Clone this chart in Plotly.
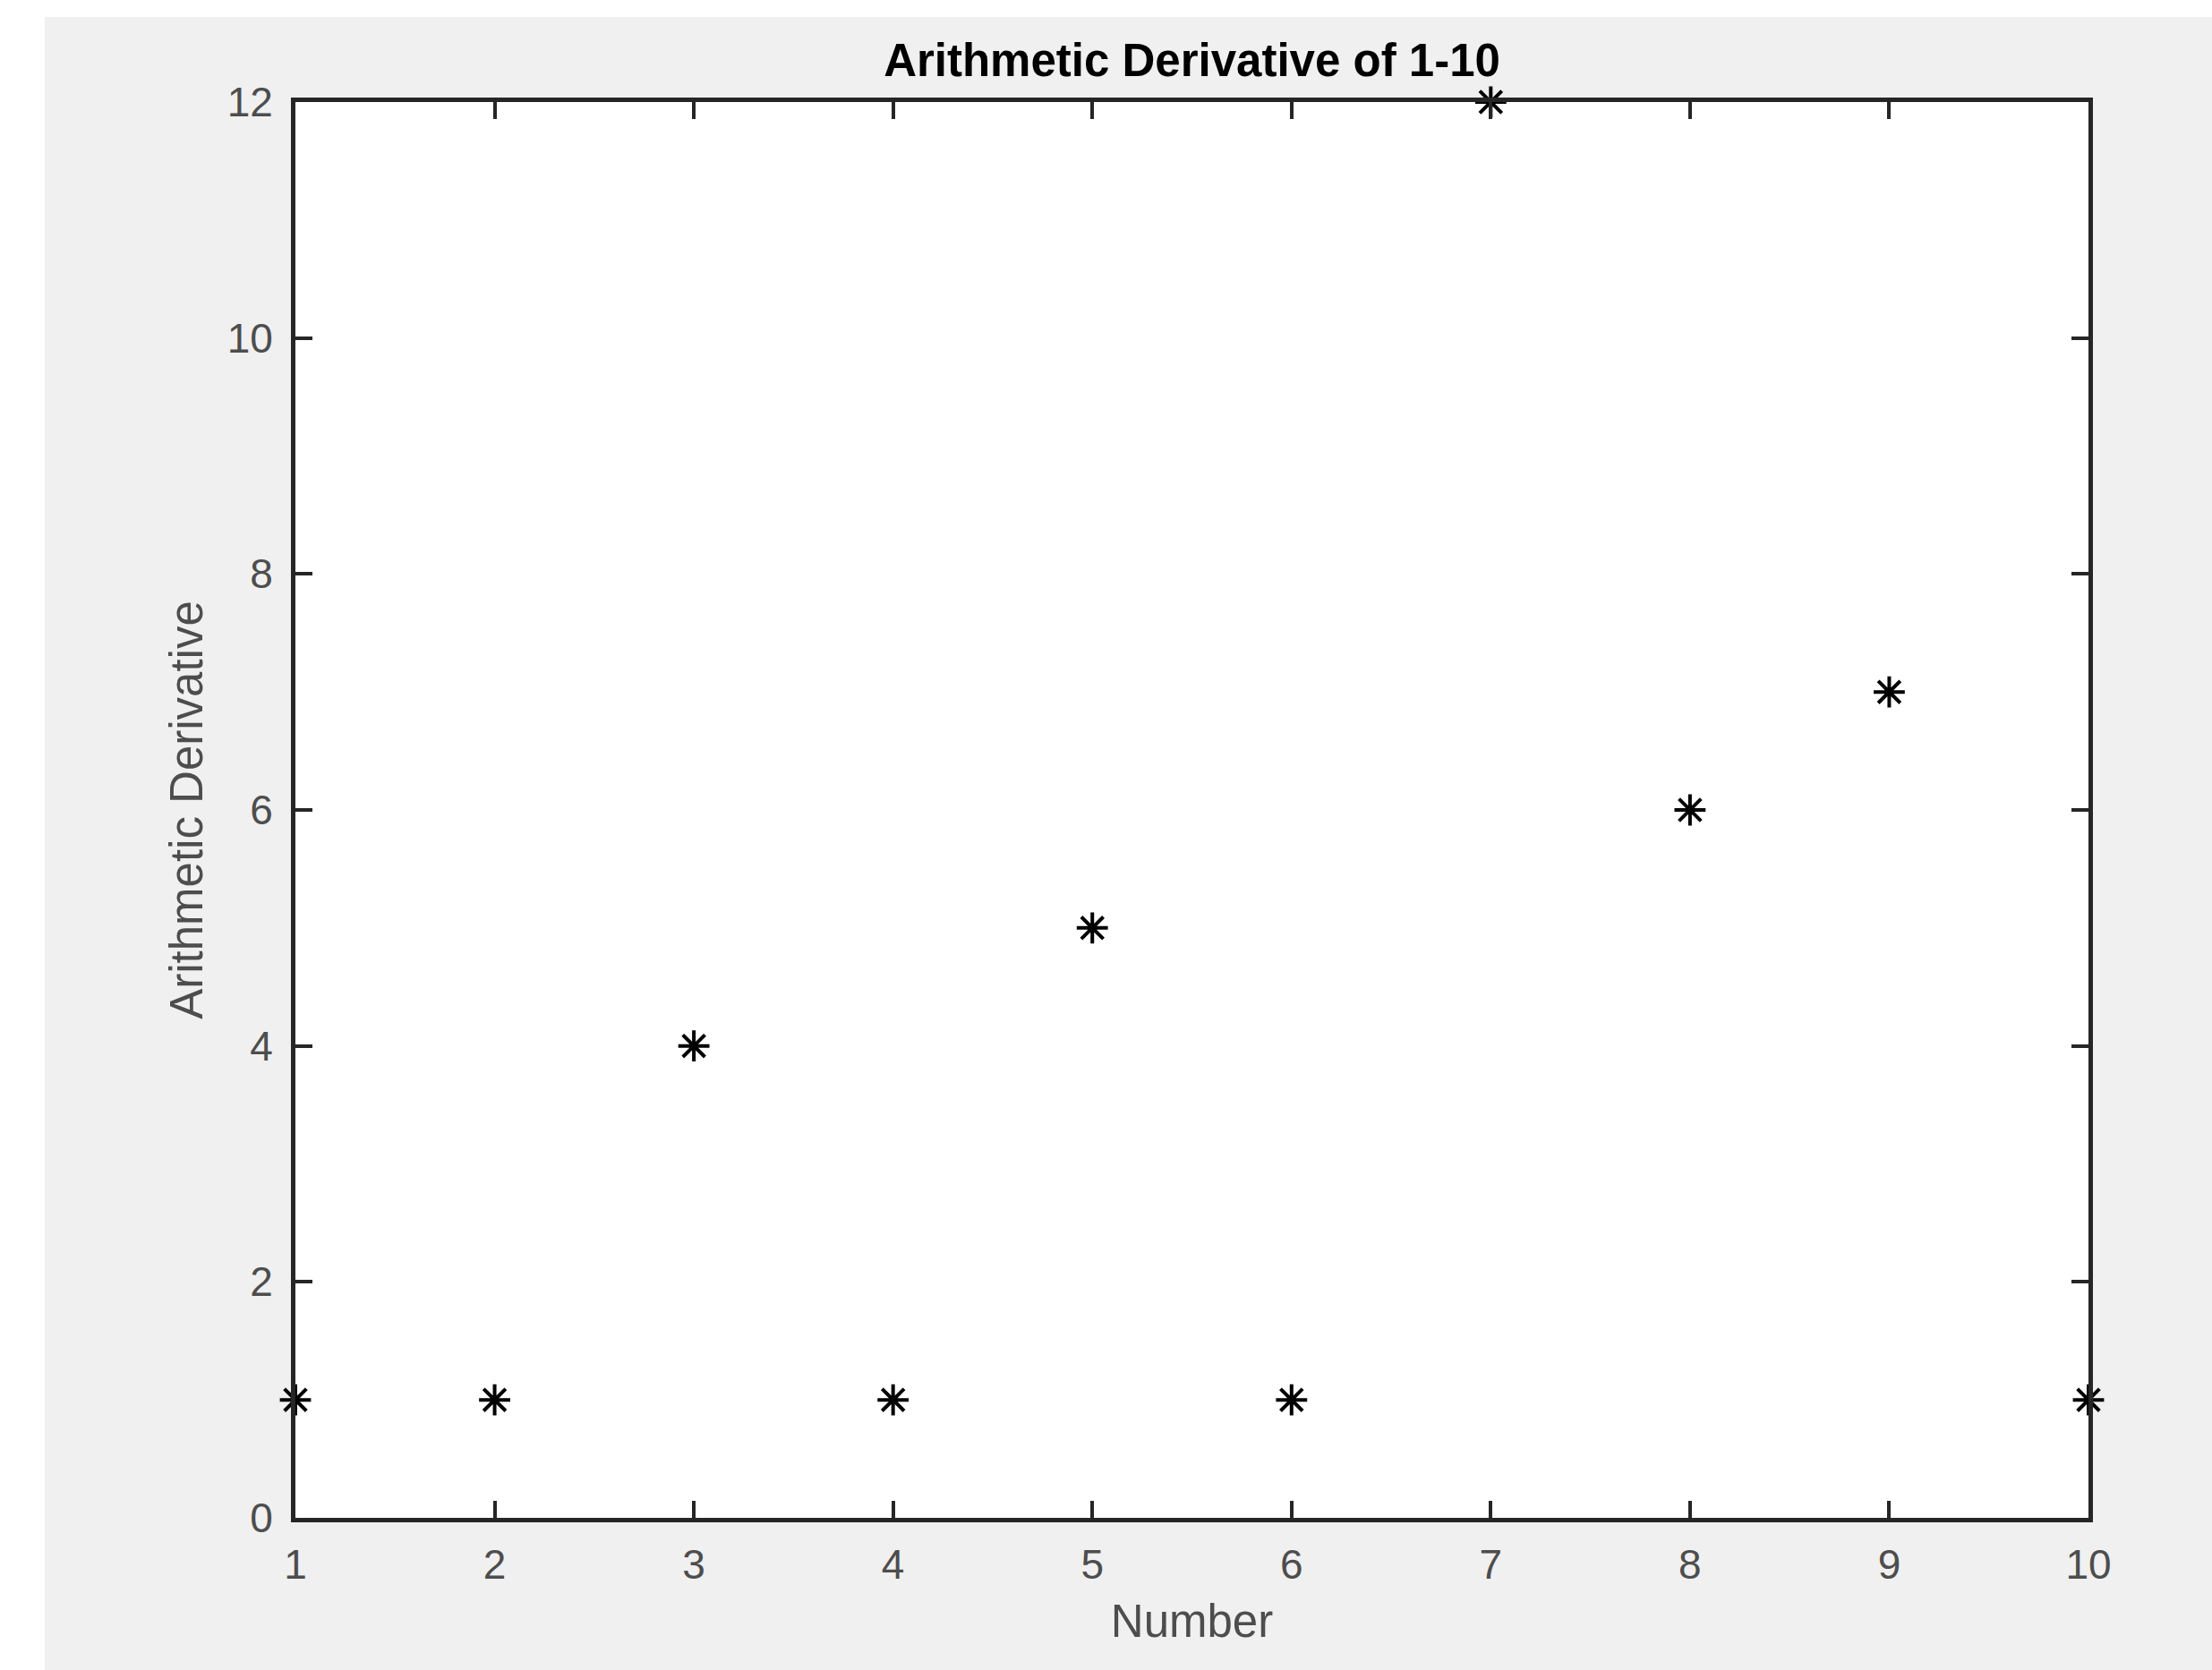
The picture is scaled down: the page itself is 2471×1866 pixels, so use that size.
import plotly.graph_objects as go

# Data
numbers = [1, 2, 3, 4, 5, 6, 7, 8, 9, 10]
derivative = [1, 1, 4, 1, 5, 1, 12, 6, 7, 1]
x_ticks = [1, 2, 3, 4, 5, 6, 7, 8, 9, 10]
y_ticks = [0, 2, 4, 6, 8, 10, 12]

W, H = 2471, 1866
L, R, T, B = 330, 2333, 114, 1696

AX = "#262626"
LBL = "#4d4d4d"
FONT = "Liberation Sans, Arial, Helvetica, sans-serif"

fig = go.Figure()
fig.add_trace(go.Scatter(
    x=numbers, y=derivative, mode="markers",
    marker=dict(symbol="asterisk-open", size=29, color="black",
                line=dict(color="black", width=4)),
    cliponaxis=False, showlegend=False,
))

axis_common = dict(
    showline=True, linecolor=AX, linewidth=5, mirror="ticks",
    ticks="inside", ticklen=19, tickwidth=4, tickcolor=AX,
    showgrid=False, zeroline=False,
    tickfont=dict(family=FONT, size=46, color=LBL),
)

fig.update_xaxes(range=[1, 10], tickvals=x_ticks,
                 ticktext=[str(v) for v in x_ticks],
                 ticklabelstandoff=8,
                 title=dict(text="Number", font=dict(family=FONT, size=51, color=LBL), standoff=22),
                 **axis_common)
fig.update_yaxes(range=[0, 12], tickvals=y_ticks,
                 ticktext=[str(v) for v in y_ticks],
                 ticklabelstandoff=11,
                 title=dict(text="Arithmetic Derivative", font=dict(family=FONT, size=51, color=LBL), standoff=12),
                 **axis_common)

# white strips around the gray figure area (top and left)
fig.add_shape(type="rect", xref="paper", yref="paper",
              x0=(0 - L) / (R - L), x1=(W - L) / (R - L),
              y0=(B - 0) / (B - T), y1=(B - 19) / (B - T),
              fillcolor="white", line=dict(width=0), layer="below")
fig.add_shape(type="rect", xref="paper", yref="paper",
              x0=(0 - L) / (R - L), x1=(50 - L) / (R - L),
              y0=(B - H) / (B - T), y1=(B - 0) / (B - T),
              fillcolor="white", line=dict(width=0), layer="below")

fig.update_layout(
    width=W, height=H,
    margin=dict(l=L, r=W - R, t=T, b=H - B, pad=0),
    paper_bgcolor="#f0f0f0", plot_bgcolor="white",
    title=dict(text="<b>Arithmetic Derivative of 1-10</b>",
               font=dict(family=FONT, size=51, color="black"),
               x=0.5, xref="paper", xanchor="center",
               y=1 - 67 / H, yref="container", yanchor="middle"),
    font=dict(family=FONT),
)

fig.write_html("out.html", config={"displayModeBar": False},
               post_script="document.body.style.margin='0';document.body.style.overflow='hidden';")
